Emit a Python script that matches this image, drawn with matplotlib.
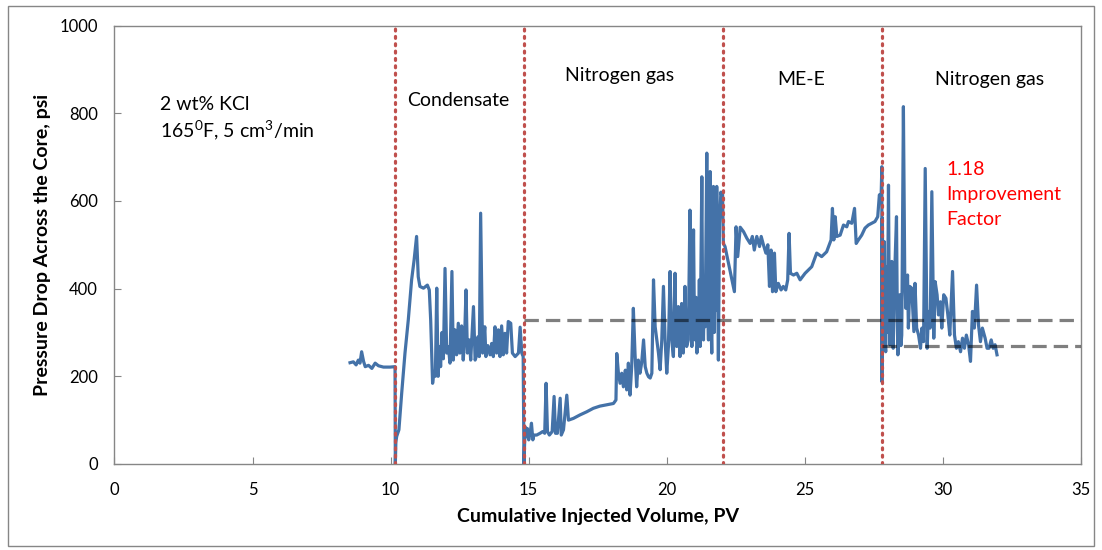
import numpy as np
import matplotlib.pyplot as plt
from matplotlib.patches import Rectangle

plt.rcParams['font.family'] = ['Lato', 'DejaVu Sans']
plt.rcParams['mathtext.default'] = 'regular'

# 2 wt% KCl brine
brine_x = [8.53, 8.65, 8.75, 8.83, 8.89, 8.95, 9.02, 9.08, 9.20, 9.32, 9.44, 9.56, 9.74, 9.98, 10.16]
brine_y = [231, 233, 226, 237, 230, 256, 234, 222, 225, 218, 230, 224, 221, 221, 222]

# condensate injection
cond_x = [10.17, 10.19, 10.22, 10.30, 10.40, 10.52, 10.64, 10.76, 10.85, 10.94, 11.00, 11.06,
          11.19, 11.33, 11.40, 11.45, 11.52, 11.57, 11.62, 11.67, 11.72, 11.77, 11.81, 11.86,
          11.91, 11.97, 12.03, 12.09, 12.15, 12.22, 12.27, 12.33, 12.39, 12.45, 12.51, 12.57,
          12.63, 12.68, 12.73, 12.78, 12.85, 12.90, 12.95, 13.00, 13.06, 13.12, 13.16, 13.21,
          13.26, 13.33, 13.41, 13.45, 13.52, 13.60, 13.66, 13.72, 13.78, 13.84, 13.90, 13.96,
          14.02, 14.08, 14.14, 14.20, 14.26, 14.35, 14.41, 14.51, 14.63, 14.69, 14.75, 14.80]
cond_y = [0, 50, 63, 78, 161, 253, 329, 420, 465, 519, 427, 405,
          401, 408, 397, 329, 184, 211, 200, 401, 200, 268, 222, 300,
          240, 446, 253, 268, 230, 439, 237, 306, 249, 321, 253, 315,
          237, 290, 397, 253, 283, 237, 300, 359, 237, 249, 290, 245,
          572, 253, 313, 245, 270, 249, 275, 245, 313, 253, 306, 245,
          315, 249, 298, 253, 325, 321, 253, 245, 253, 312, 253, 245]

# first nitrogen gas injection
n2a_x = [14.83, 14.87, 14.90, 14.95, 15.00, 15.05, 15.10, 15.15, 15.19, 15.29, 15.41, 15.51,
         15.58, 15.63, 15.68, 15.75, 15.85, 15.92, 15.97, 16.04, 16.14, 16.18, 16.26, 16.38,
         16.44, 16.62, 16.86, 17.10, 17.34, 17.58, 17.83, 18.07, 18.16, 18.19, 18.25, 18.31,
         18.37, 18.43, 18.50, 18.55, 18.61, 18.67, 18.73, 18.79, 18.85, 18.91, 18.97, 19.03,
         19.09, 19.16, 19.22, 19.28, 19.34, 19.40, 19.46, 19.52, 19.58, 19.64, 19.70, 19.76,
         19.82, 19.88, 19.94, 20.00, 20.06, 20.12, 20.18, 20.24, 20.30, 20.33, 20.36, 20.42,
         20.45, 20.48, 20.54, 20.57, 20.60, 20.66, 20.69, 20.72, 20.78, 20.84, 20.88, 20.91,
         20.97, 21.00, 21.03, 21.06, 21.09, 21.15, 21.18, 21.21, 21.27, 21.30, 21.33, 21.36,
         21.39, 21.45, 21.48, 21.51, 21.57, 21.60, 21.63, 21.69, 21.72, 21.75, 21.78, 21.81,
         21.87, 21.91, 21.96, 22.00]
n2a_y = [0, 85, 62, 81, 55, 70, 93, 55, 66, 66, 70, 74,
         70, 184, 74, 66, 74, 154, 70, 70, 150, 66, 78, 157,
         100, 104, 112, 119, 127, 132, 135, 138, 146, 252, 207, 184,
         207, 176, 214, 169, 230, 157, 222, 355, 252, 176, 237, 207,
         230, 283, 222, 207, 199, 196, 207, 420, 313, 283, 253, 215,
         283, 405, 283, 207, 268, 439, 283, 245, 435, 300, 268, 359,
         280, 245, 366, 290, 253, 405, 320, 268, 283, 579, 340, 268,
         534, 330, 283, 380, 253, 291, 420, 268, 655, 350, 283, 400,
         313, 709, 360, 283, 667, 330, 253, 633, 300, 549, 350, 633,
         237, 549, 620, 610]

# ME-E treatment
mee_x = [22.02, 22.05, 22.11, 22.45, 22.51, 22.57, 22.66, 22.78, 22.90, 23.02, 23.10, 23.17,
         23.26, 23.36, 23.42, 23.50, 23.59, 23.66, 23.72, 23.78, 23.83, 23.90, 23.95, 24.04,
         24.14, 24.22, 24.31, 24.38, 24.43, 24.48, 24.59, 24.71, 24.83, 25.01, 25.25, 25.43,
         25.52, 25.61, 25.79, 25.95, 26.00, 26.05, 26.10, 26.16, 26.28, 26.40, 26.52, 26.58,
         26.70, 26.80, 26.86, 26.94, 27.06, 27.18, 27.30, 27.42, 27.54, 27.64, 27.70, 27.76,
         27.79]
mee_y = [620, 503, 496, 393, 541, 473, 540, 530, 515, 503, 519, 488,
         519, 496, 519, 500, 481, 500, 405, 488, 393, 481, 393, 412,
         397, 405, 397, 420, 526, 435, 431, 435, 420, 435, 450, 481,
         477, 473, 484, 511, 583, 511, 564, 519, 522, 545, 541, 553,
         549, 583, 503, 511, 522, 538, 545, 549, 553, 564, 614, 602,
         678]

# second nitrogen gas injection
n2b_x = [27.79, 27.81, 27.83, 27.85, 27.88, 27.90, 27.93, 27.96, 27.99, 28.03, 28.06, 28.08,
         28.11, 28.15, 28.18, 28.20, 28.24, 28.27, 28.32, 28.35, 28.37, 28.41, 28.44, 28.48,
         28.51, 28.57, 28.62, 28.66, 28.72, 28.75, 28.80, 28.87, 28.95, 28.99, 29.05, 29.12,
         29.19, 29.24, 29.30, 29.36, 29.43, 29.48, 29.54, 29.60, 29.67, 29.72, 29.79, 29.84,
         29.91, 29.96, 30.03, 30.11, 30.18, 30.25, 30.35, 30.42, 30.49, 30.56, 30.64, 30.71,
         30.78, 30.85, 30.93, 31.00, 31.07, 31.14, 31.22, 31.29, 31.36, 31.43, 31.53, 31.60,
         31.67, 31.75, 31.82, 31.89, 31.96]
n2b_y = [188, 560, 300, 420, 507, 280, 256, 450, 300, 636, 330, 272,
         400, 462, 300, 264, 380, 465, 564, 330, 249, 320, 386, 270,
         294, 815, 420, 355, 431, 310, 405, 401, 302, 412, 310, 294,
         264, 310, 279, 674, 264, 348, 310, 621, 287, 416, 386, 340,
         370, 310, 386, 378, 340, 294, 439, 294, 264, 279, 256, 287,
         264, 294, 272, 234, 348, 310, 408, 317, 279, 310, 287, 264,
         264, 283, 264, 272, 249]

stage_bounds = [10.16, 14.84, 22.02, 27.79]
avg_n2_first = 328
avg_n2_second = 268

x = np.concatenate([brine_x, cond_x, n2a_x, mee_x, n2b_x])
y = np.concatenate([brine_y, cond_y, n2a_y, mee_y, n2b_y])

fig = plt.figure(figsize=(11.02, 5.5), dpi=100)
ax = fig.add_axes([0.1039, 0.1564, 0.8770, 0.7971])

ax.plot(x, y, color='#4472A8', lw=2.3, zorder=2)

for xb in stage_bounds:
    ax.plot([xb, xb], [0, 1000], color='#C0504D', lw=2.3,
            linestyle=(0, (0.6, 1.7)), dash_capstyle='round', zorder=3)

ax.plot([stage_bounds[1], 35], [avg_n2_first] * 2, color='black', alpha=0.5,
        lw=2.3, linestyle=(0, (4.5, 2.2)), zorder=4)
ax.plot([stage_bounds[3], 35], [avg_n2_second] * 2, color='black', alpha=0.5,
        lw=2.3, linestyle=(0, (4.5, 2.2)), zorder=4)

fs = 14
ax.text(1.65, 819, '2 wt% KCl', fontsize=fs, va='center')
ax.text(1.65, 762, '165$^{0}$F, 5 cm$^{3}$/min', fontsize=fs, va='center')
ax.text(10.6, 830, 'Condensate', fontsize=fs, va='center')
ax.text(16.3, 887, 'Nitrogen gas', fontsize=fs, va='center')
ax.text(24.0, 876, 'ME-E', fontsize=fs, va='center')
ax.text(29.7, 876, 'Nitrogen gas', fontsize=fs, va='center')
ax.text(30.12, 671, '1.18', fontsize=fs, va='center', color='red')
ax.text(30.12, 614, 'Improvement', fontsize=fs, va='center', color='red')
ax.text(30.12, 557, 'Factor', fontsize=fs, va='center', color='red')

ax.set_xlim(0, 35)
ax.set_ylim(0, 1000)
ax.set_xticks(np.arange(0, 36, 5))
ax.set_yticks(np.arange(0, 1001, 200))
for s in ax.spines.values():
    s.set_color('#868686')
    s.set_linewidth(1)
ax.tick_params(direction='in', length=5, color='#868686', labelsize=12)
ax.tick_params(axis='x', pad=13)
ax.tick_params(axis='y', pad=12)

ax.set_xlabel('Cumulative Injected Volume, PV', fontsize=14, fontweight='bold')
ax.set_ylabel('Pressure Drop Across the Core, psi', fontsize=14, fontweight='bold')
ax.xaxis.set_label_coords(0.5, -0.1)
ax.yaxis.set_label_coords(-0.066, 0.5)

fig.patches.append(Rectangle((8 / 1102, 1 - 546 / 550), 1086 / 1102, 540 / 550,
                             transform=fig.transFigure, fill=False,
                             edgecolor='#868686', lw=1))

fig.savefig('out.png', dpi=100)
